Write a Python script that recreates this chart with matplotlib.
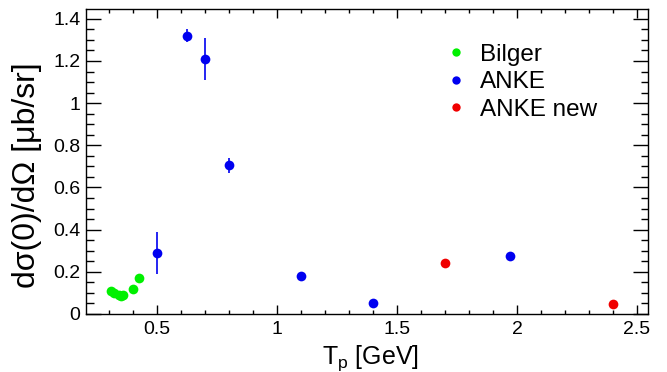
import numpy as np
import matplotlib
matplotlib.use('Agg')
import matplotlib.pyplot as plt
from matplotlib.ticker import MultipleLocator, FuncFormatter
from matplotlib.lines import Line2D

plt.rcParams['font.family'] = ['Liberation Sans', 'DejaVu Sans']
plt.rcParams['mathtext.fontset'] = 'custom'
plt.rcParams['mathtext.rm'] = 'Liberation Sans'

# data
bilger_x = [0.31, 0.32, 0.34, 0.35, 0.36, 0.40, 0.425]
bilger_y = [0.11, 0.10, 0.09, 0.085, 0.09, 0.12, 0.17]

anke_x = [0.50, 0.625, 0.70, 0.80, 1.10, 1.40, 1.97]
anke_y = [0.29, 1.32, 1.21, 0.705, 0.18, 0.05, 0.275]
anke_err = [0.10, 0.03, 0.10, 0.037, 0.01, 0.005, 0.02]

new_x = [1.70, 2.40]
new_y = [0.24, 0.048]
new_err = [0.01, 0.01]

green, blue, red = '#00f000', '#0000f0', '#f00000'

fig = plt.figure(figsize=(6.67, 3.72), dpi=100)
ax = fig.add_axes([0.129, 0.156, 0.8425, 0.820])

ax.errorbar(bilger_x, bilger_y, fmt='o', color=green, ms=7, mew=0)
ax.errorbar(anke_x, anke_y, yerr=anke_err, fmt='o', color=blue, ms=7, mew=0,
            elinewidth=1.2, capsize=1.0, capthick=1.2)
ax.errorbar(new_x, new_y, yerr=new_err, fmt='o', color=red, ms=7, mew=0,
            elinewidth=1.2, capsize=1.0, capthick=1.2)

ax.set_xlim(0.204, 2.546)
ax.set_ylim(0, 1.447)

ax.xaxis.set_major_locator(MultipleLocator(0.5))
ax.xaxis.set_minor_locator(MultipleLocator(0.1))
ax.yaxis.set_major_locator(MultipleLocator(0.2))
ax.yaxis.set_minor_locator(MultipleLocator(0.05))
fmt = FuncFormatter(lambda v, p: '%g' % round(v, 3))
ax.xaxis.set_major_formatter(fmt)
ax.yaxis.set_major_formatter(fmt)

ax.tick_params(which='both', direction='in', top=True, right=True, labelsize=14, width=1)
ax.tick_params(axis='x', which='major', length=6.5, pad=5)
ax.tick_params(axis='x', which='minor', length=3.2)
ax.tick_params(axis='y', which='major', length=10.8, pad=4)
ax.tick_params(axis='y', which='minor', length=5.4)
for s in ax.spines.values():
    s.set_linewidth(1)

ax.set_xlabel(r'T$_\mathregular{p}$ [GeV]', fontsize=18)
ax.xaxis.set_label_coords(0.507, -0.095, transform=ax.transAxes)
ax.xaxis.label.set_va('top')
ax.set_ylabel('dσ(0)/dΩ [μb/sr]', fontsize=23)
ax.yaxis.set_label_coords(-0.078, 0.455)

handles = [Line2D([], [], ls='none', marker='o', ms=6, mew=0, color=c) for c in (green, blue, red)]
leg = ax.legend(handles, ['Bilger', 'ANKE', 'ANKE new'], loc='upper left',
                bbox_to_anchor=(0.619, 0.925), frameon=False, borderpad=0,
                fontsize=17.5, handletextpad=0.58, labelspacing=0.22, handlelength=0.8)

fig.savefig('out.png', dpi=100)
